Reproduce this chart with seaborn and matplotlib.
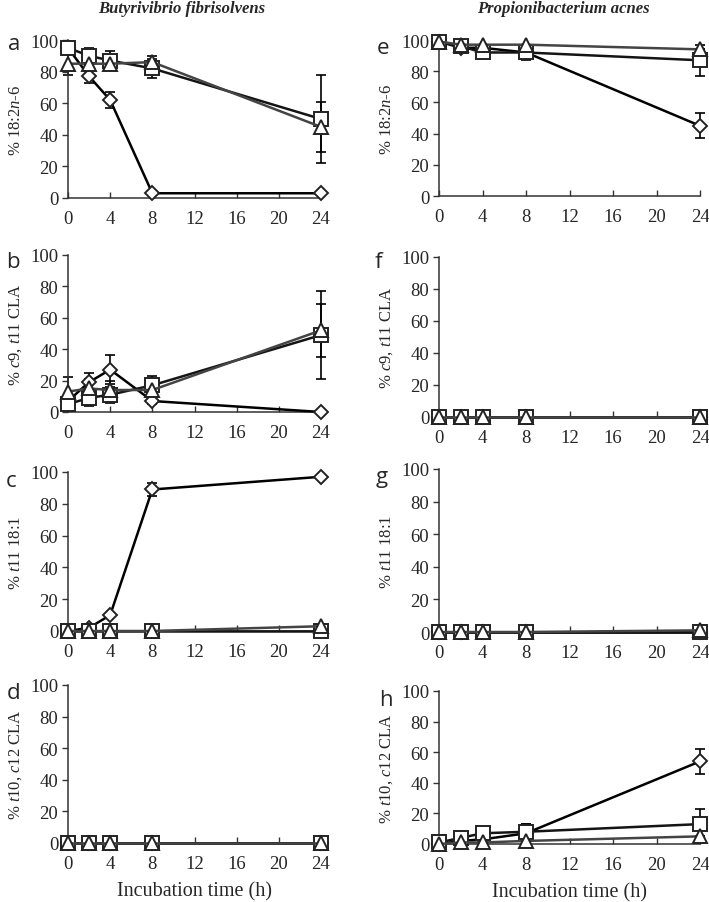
import numpy as np
import matplotlib
matplotlib.use("Agg")
import matplotlib.pyplot as plt
import seaborn as sns

# ============================================
# Data: % of fatty acid over incubation time
# ============================================

time_h = [0, 2, 4, 8, 24]

# Butyrivibrio fibrisolvens
# a: 18:2n-6
a_dia = [95, 77, 62, 3, 3]
a_dia_err = [0, 4, 5, 0, 0]
a_sq = [95, 90, 87, 82, 50]
a_sq_err = [4, 5, 6, 6, 28]
a_tri = [85, 85, 85, 86, 45]
a_tri_err = [7, 3, 3, 4, 16]

# b: c9, t11 CLA
b_dia = [7, 19, 27, 7, 0]
b_dia_err = [0, 6, 9, 2, 0]
b_sq = [5, 9, 11, 17, 49]
b_sq_err = [3, 5, 5, 6, 28]
b_tri = [13, 15, 14, 14, 52]
b_tri_err = [9, 6, 6, 3, 17]

# c: t11 18:1
c_dia = [0, 2, 10, 89, 97]
c_dia_err = [0, 0, 1, 4, 0]
c_sq = [0, 0, 0, 0, 0]
c_sq_err = [0, 0, 0, 0, 0]
c_tri = [0, 0, 0, 0, 3]
c_tri_err = [0, 0, 0, 0, 0]

# d: t10, c12 CLA
d_dia = [0, 0, 0, 0, 0]
d_dia_err = [0, 0, 0, 0, 0]
d_sq = [0, 0, 0, 0, 0]
d_sq_err = [0, 0, 0, 0, 0]
d_tri = [0, 0, 0, 0, 0]
d_tri_err = [0, 0, 0, 0, 0]

# Propionibacterium acnes
# e: 18:2n-6
e_dia = [99, 95, 95, 92, 45]
e_dia_err = [0, 2, 0, 0, 8]
e_sq = [99, 96, 92, 92, 87]
e_sq_err = [0, 2, 0, 5, 10]
e_tri = [99, 97, 97, 97, 94]
e_tri_err = [0, 0, 0, 0, 0]

# f: c9, t11 CLA
f_dia = [0, 0, 0, 0, 0]
f_dia_err = [0, 0, 0, 0, 0]
f_sq = [0, 0, 0, 0, 0]
f_sq_err = [0, 0, 0, 0, 0]
f_tri = [0, 0, 0, 0, 0]
f_tri_err = [0, 0, 0, 0, 0]

# g: t11 18:1
g_dia = [0, 0, 0, 0, 0]
g_dia_err = [0, 0, 0, 0, 0]
g_sq = [0, 0, 0, 0, 0]
g_sq_err = [0, 0, 0, 0, 0]
g_tri = [0, 0, 0, 0, 1]
g_tri_err = [0, 0, 0, 0, 0]

# h: t10, c12 CLA
h_dia = [0, 2, 3, 7, 54]
h_dia_err = [0, 0, 0, 6, 8]
h_sq = [1, 4, 7, 8, 13]
h_sq_err = [0, 2, 1, 5, 10]
h_tri = [0, 1, 1, 2, 5]
h_tri_err = [0, 0, 0, 0, 0]

x_ticks = [0, 4, 8, 12, 16, 20, 24]
y_ticks = [0, 20, 40, 60, 80, 100]

ylabels = {
    "a": r"% 18:2$\it{n}$-6",
    "b": r"% $\it{c}$9, $\it{t}$11 CLA",
    "c": r"% $\it{t}$11 18:1",
    "d": r"% $\it{t}$10, $\it{c}$12 CLA",
    "e": r"% 18:2$\it{n}$-6",
    "f": r"% $\it{c}$9, $\it{t}$11 CLA",
    "g": r"% $\it{t}$11 18:1",
    "h": r"% $\it{t}$10, $\it{c}$12 CLA",
}

panels = {
    "a": (a_dia, a_dia_err, a_sq, a_sq_err, a_tri, a_tri_err),
    "b": (b_dia, b_dia_err, b_sq, b_sq_err, b_tri, b_tri_err),
    "c": (c_dia, c_dia_err, c_sq, c_sq_err, c_tri, c_tri_err),
    "d": (d_dia, d_dia_err, d_sq, d_sq_err, d_tri, d_tri_err),
    "e": (e_dia, e_dia_err, e_sq, e_sq_err, e_tri, e_tri_err),
    "f": (f_dia, f_dia_err, f_sq, f_sq_err, f_tri, f_tri_err),
    "g": (g_dia, g_dia_err, g_sq, g_sq_err, g_tri, g_tri_err),
    "h": (h_dia, h_dia_err, h_sq, h_sq_err, h_tri, h_tri_err),
}

# ============================================
# Style
# ============================================

sns.set_style("ticks")
plt.rcParams['font.family'] = ['Liberation Serif', 'DejaVu Serif']
plt.rcParams['mathtext.fontset'] = 'custom'
plt.rcParams['mathtext.rm'] = 'Liberation Serif'
plt.rcParams['mathtext.it'] = 'Liberation Serif:italic'

W, H = 709, 903
fig = plt.figure(figsize=(W / 100, H / 100), dpi=100)

# axes rectangles in pixels: (left, top(100), right, bottom(0))
rects = {
    "a": (68, 41, 321, 199),
    "b": (68, 256, 321, 413),
    "c": (68, 473, 321, 632),
    "d": (68, 686, 321, 844),
    "e": (439, 41, 700, 197),
    "f": (439, 258, 700, 418),
    "g": (439, 470, 700, 633),
    "h": (439, 692, 700, 845),
}

letter_pos = {
    "a": (8, 45), "b": (6, 263), "c": (6, 482), "d": (7, 694),
    "e": (377, 48), "f": (375, 263), "g": (376, 478), "h": (379, 701),
}

dia_col = "#000000"
sq_col = "#141414"
tri_col = "#444444"

for key, (dia, dia_e, sq, sq_e, tri, tri_e) in panels.items():
    l, t, r, b = rects[key]
    ax = fig.add_axes([l / W, 1 - b / H, (r - l) / W, (b - t) / H])

    series = [
        (dia, dia_e, "D", 7.5, dia_col, 3),
        (sq, sq_e, "s", 9.5, sq_col, 4),
        (tri, tri_e, "^", 10.5, tri_col, 5),
    ]
    for vals, err, mk, ms, col, z in series:
        ax.errorbar(time_h, vals, yerr=err, fmt="none", ecolor="black",
                    elinewidth=1.2, capsize=3.5, capthick=1.2,
                    clip_on=False, zorder=2)
        sns.lineplot(x=time_h, y=vals, ax=ax, color=col, marker=mk,
                     markersize=ms, markerfacecolor="white",
                     markeredgecolor="#222222", markeredgewidth=1.4,
                     linewidth=1.8, clip_on=False, zorder=z)

    ax.set_xlim(0, 24)
    ax.set_ylim(0, 100)
    ax.set_xticks(x_ticks)
    ax.set_yticks(y_ticks)
    sns.despine(ax=ax)
    for side in ["left", "bottom"]:
        ax.spines[side].set_color("#333333")
        ax.spines[side].set_linewidth(1.1)
    ax.tick_params(axis="x", direction="in", length=4, width=1,
                   color="#333333", labelsize=13.5, pad=9)
    ax.tick_params(axis="y", direction="out", length=4, width=1,
                   color="#333333", labelsize=13.5, pad=3)
    ax.set_xlabel("")
    ax.set_ylabel(ylabels[key], fontsize=12)
    ax.yaxis.set_label_coords(-0.175 if key < "e" else -0.17, 0.5)

    if key in ("d", "h"):
        ax.set_xlabel("Incubation time (h)", fontsize=14.5, labelpad=6)

    lx, ly = letter_pos[key]
    fig.text(lx / W, 1 - ly / H, key, fontsize=16, family="Open Sans",
             ha="left", va="center")

fig.text(182 / W, 1 - 9 / H, "Butyrivibrio fibrisolvens", fontsize=12,
         fontweight="bold", fontstyle="italic", ha="center", va="center")
fig.text(563 / W, 1 - 9 / H, "Propionibacterium acnes", fontsize=12,
         fontweight="bold", fontstyle="italic", ha="center", va="center")

plt.savefig("out.png", dpi=100)
